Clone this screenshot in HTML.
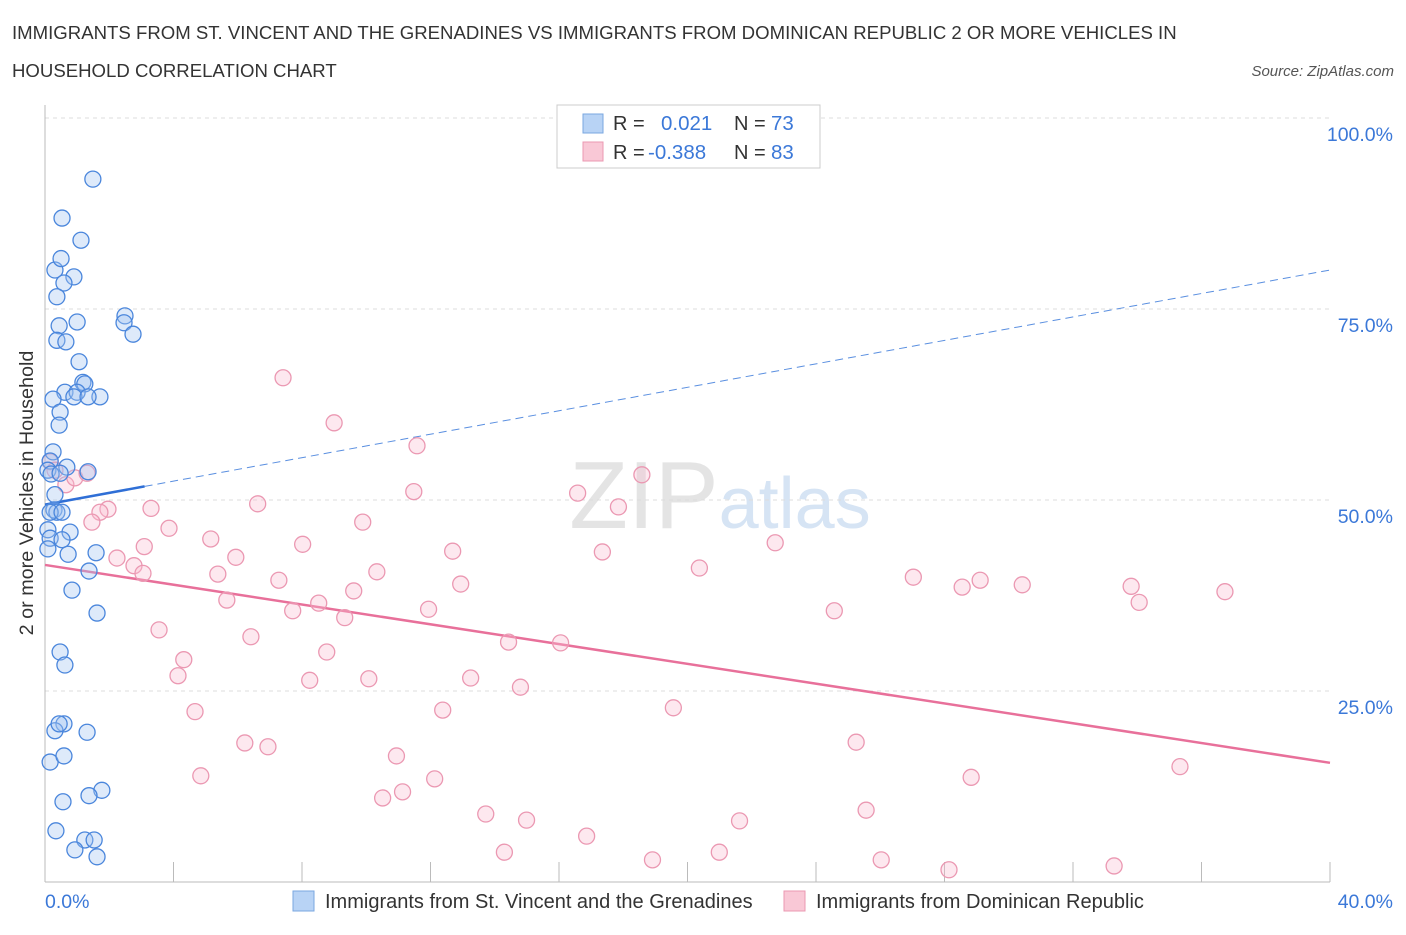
<!DOCTYPE html>
<html><head><meta charset="utf-8"><style>
body{margin:0;background:#fff;font-family:"Liberation Sans",sans-serif;}
svg text{font-family:"Liberation Sans",sans-serif;}
</style></head><body>
<svg id="chart" width="1406" height="930" viewBox="0 0 1406 930" xmlns="http://www.w3.org/2000/svg">
<text x="12" y="39" font-size="18.6" fill="#333">IMMIGRANTS FROM ST. VINCENT AND THE GRENADINES VS IMMIGRANTS FROM DOMINICAN REPUBLIC 2 OR MORE VEHICLES IN</text>
<text x="12" y="77" font-size="18.6" fill="#333">HOUSEHOLD CORRELATION CHART</text>
<text x="1394" y="76" font-size="15" fill="#555" text-anchor="end" font-style="italic">Source: ZipAtlas.com</text>
<text x="720" y="528" font-size="96" fill="#e4e4e4" text-anchor="middle" font-family="Liberation Serif"><tspan>ZIP</tspan><tspan fill="#d6e4f4" font-family="Liberation Sans" font-size="72">atlas</tspan></text>
<g id="grid"></g>
<g id="axes"></g>
<g id="lines"></g>
<g id="points"></g>
<text transform="translate(33,493) rotate(-90)" font-size="19.8" fill="#333" text-anchor="middle">2 or more Vehicles in Household</text>
<text x="45" y="908" font-size="19.5" fill="#3b78d8">0.0%</text>
<text x="1393" y="908" font-size="19.5" fill="#3b78d8" text-anchor="end">40.0%</text>
<g>
<rect x="557" y="105" width="263" height="63" fill="#fff" stroke="#ccc"/>
<rect x="583" y="114" width="20" height="19" fill="#b8d3f5" stroke="#7aa7e0"/>
<rect x="583" y="142" width="20" height="19" fill="#f9c8d6" stroke="#eb98b2"/>
<text x="613" y="130" font-size="20" fill="#333">R =</text>
<text x="661" y="130" font-size="20.5" fill="#3b78d8">0.021</text>
<text x="734" y="130" font-size="20" fill="#333">N =</text>
<text x="771" y="130" font-size="20.5" fill="#3b78d8">73</text>
<text x="613" y="159" font-size="20" fill="#333">R =</text>
<text x="648" y="159" font-size="20.5" fill="#3b78d8">-0.388</text>
<text x="734" y="159" font-size="20" fill="#333">N =</text>
<text x="771" y="159" font-size="20.5" fill="#3b78d8">83</text>
</g>
<g>
<rect x="293" y="891" width="21" height="20" fill="#b8d3f5" stroke="#7aa7e0"/>
<text x="325" y="908" font-size="20" fill="#333">Immigrants from St. Vincent and the Grenadines</text>
<rect x="784" y="891" width="21" height="20" fill="#f9c8d6" stroke="#eb98b2"/>
<text x="816" y="908" font-size="20" fill="#333">Immigrants from Dominican Republic</text>
</g>
</svg>
<script>
const yTicks=[25,50,75,100];
const yTickLabels=["25.0%","50.0%","75.0%","100.0%"];
const xTicks=[0,4,8,12,16,20,24,28,32,36,40];
const blueX=[1.49,0.53,1.12,0.31,0.50,0.90,0.59,0.37,2.49,2.46,1.00,0.44,2.74,0.37,0.65,1.06,1.18,1.24,0.62,1.00,0.90,1.71,1.34,0.25,0.47,0.44,0.25,0.16,0.09,0.68,1.34,0.19,0.47,0.31,0.28,0.37,0.16,0.53,0.78,0.09,0.16,0.53,0.09,0.72,1.59,1.37,0.84,1.62,0.47,0.62,0.59,0.31,1.31,0.44,0.16,0.59,1.77,1.37,0.56,0.34,1.24,1.53,0.93,1.62];
const blueY=[92.0,86.9,84.0,80.1,81.6,79.2,78.4,76.6,74.1,73.2,73.3,72.8,71.7,70.9,70.7,68.1,65.4,65.2,64.1,64.1,63.5,63.5,63.5,63.2,61.5,59.8,56.3,55.1,53.9,54.3,53.7,53.4,53.5,50.7,48.7,48.4,48.4,48.4,45.8,46.1,45.0,44.8,43.6,42.9,43.1,40.7,38.2,35.2,30.1,28.4,20.7,19.8,19.6,20.7,15.7,16.5,12.0,11.3,10.5,6.7,5.5,5.5,4.2,3.3];
const pinkX=[7.41,9.00,11.58,18.58,0.16,0.31,0.65,0.93,1.31,11.48,16.58,17.85,6.62,3.30,1.96,1.71,1.46,3.86,9.89,5.16,3.09,8.02,12.69,17.35,22.73,2.24,5.94,2.77,3.05,5.38,10.33,20.37,7.28,12.94,9.61,27.03,28.55,29.11,30.42,33.81,34.06,36.73,5.66,8.52,7.71,11.94,9.33,24.57,3.55,6.41,14.43,16.05,8.77,4.32,4.14,8.24,10.08,13.25,14.80,4.67,12.38,19.56,6.22,6.94,25.25,10.94,35.33,4.85,12.13,28.83,11.13,10.51,25.56,13.72,14.99,21.62,16.86,14.30,20.99,18.91,26.03,28.14,33.28];
const pinkY=[66.0,60.1,57.1,53.3,55.0,53.9,52.0,52.9,53.5,51.1,50.9,49.1,49.5,48.9,48.8,48.4,47.1,46.3,47.1,44.9,43.9,44.2,43.3,43.2,44.4,42.4,42.5,41.4,40.4,40.3,40.6,41.1,39.5,39.0,38.1,39.9,38.6,39.5,38.9,38.7,36.6,38.0,36.9,36.5,35.5,35.7,34.6,35.5,33.0,32.1,31.4,31.3,30.1,29.1,27.0,26.4,26.6,26.7,25.5,22.3,22.5,22.8,18.2,17.7,18.3,16.5,15.1,13.9,13.5,13.7,11.8,11.0,9.4,8.9,8.1,8.0,6.0,3.9,3.9,2.9,2.9,1.6,2.1];
const blueTrend=[49.4,80.1];
const pinkTrend=[41.5,15.6];
const X=v=>45+v*32.125, Y=v=>882-v*7.64;
const NS="http://www.w3.org/2000/svg";
function mk(tag,attrs,parent){const e=document.createElementNS(NS,tag);for(const k in attrs)e.setAttribute(k,attrs[k]);document.getElementById(parent).appendChild(e);return e;}
yTicks.forEach((t,i)=>{
 const g=mk('line',{x1:45,x2:1330,y1:Y(t),y2:Y(t),stroke:'#ddd','stroke-dasharray':'4,4'},'grid');
 
 
 const l=mk('text',{x:1393,y:Y(t)+23,'font-size':19.5,fill:'#3b78d8','text-anchor':'end'},'grid');
 l.textContent=yTickLabels[i];
 
 
});
const ax=mk('line',{x1:45,x2:1330,y1:882,y2:882,stroke:'#bbb'},'axes');


const ay=mk('line',{x1:45,x2:45,y1:105,y2:882,stroke:'#bbb'},'axes');


xTicks.forEach(t=>{
 const k=mk('line',{x1:X(t),x2:X(t),y1:862,y2:882,stroke:'#bbb'},'axes');
 
 
});
const bEnd=3.1, bAt=v=>blueTrend[0]+(blueTrend[1]-blueTrend[0])*v/40;
const bl1=mk('line',{x1:X(0),y1:Y(bAt(0)),x2:X(bEnd),y2:Y(bAt(bEnd)),stroke:'#2f6fd6','stroke-width':2.5},'lines');


const bl2=mk('line',{x1:X(bEnd),y1:Y(bAt(bEnd)),x2:X(40),y2:Y(bAt(40)),stroke:'#5a8fe0','stroke-width':1,'stroke-dasharray':'8,5'},'lines');


const pl=mk('line',{x1:X(0),y1:Y(pinkTrend[0]),x2:X(40),y2:Y(pinkTrend[1]),stroke:'#e8709a','stroke-width':2.5},'lines');


pinkX.forEach((x,i)=>{
 const c=mk('circle',{cx:X(x),cy:Y(pinkY[i]),r:8,fill:'rgba(248,190,208,0.35)',stroke:'#eb98b2','stroke-width':1.3},'points');
 
 
});
blueX.forEach((x,i)=>{
 const c=mk('circle',{cx:X(x),cy:Y(blueY[i]),r:8,fill:'rgba(160,195,240,0.35)',stroke:'#4a86dc','stroke-width':1.3},'points');
 
 
});
</script>
</body></html>
